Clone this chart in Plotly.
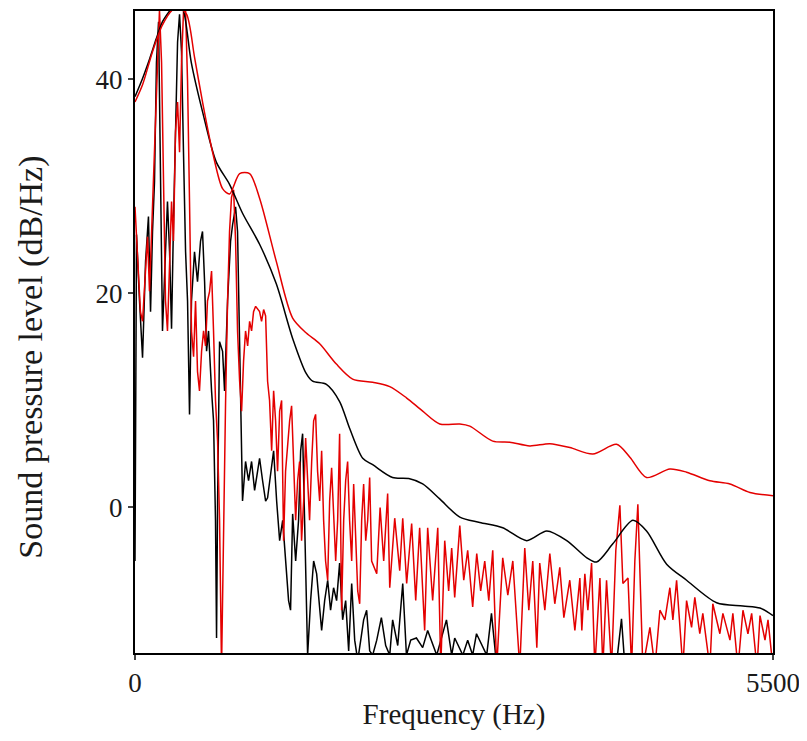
import plotly.graph_objects as go

# LPC envelope, black
env_black_hz = [0, 65, 125, 183, 237, 298, 367, 418, 485, 582, 700, 815, 927, 1074, 1218,
                1359, 1477, 1531, 1650, 1764, 1850, 1963, 2049, 2220, 2360, 2480, 2627,
                2800, 2972, 3170, 3377, 3550, 3722, 3895, 3979, 4119, 4292, 4410, 4583,
                4755, 5014, 5241, 5388, 5500]
env_black_db = [38.4, 40.1, 41.9, 43.8, 45.4, 46.4, 47.3, 46.4, 41.6, 37.0, 32.3, 30.2, 27.5,
                24.6, 20.9, 15.8, 12.5, 11.8, 11.5, 9.9, 7.4, 4.6, 4.0, 2.8, 2.7, 2.2, 0.8,
                -0.9, -1.4, -1.9, -3.1, -2.2, -3.1, -4.7, -5.1, -3.4, -1.2, -2.2, -5.3,
                -6.8, -8.9, -9.2, -9.4, -10.1]

# LPC envelope, red
env_red_hz = [0, 65, 151, 237, 324, 384, 444, 513, 582, 669, 755, 815, 902, 988, 1074, 1218,
              1359, 1477, 1592, 1736, 1876, 2049, 2196, 2340, 2480, 2627, 2800, 2886, 3084,
              3231, 3403, 3576, 3748, 3947, 4151, 4266, 4410, 4611, 4755, 4956, 5129, 5301,
              5500]
env_red_db = [37.9, 39.5, 42.6, 45.1, 46.5, 46.6, 46.1, 42.1, 37.9, 33.2, 29.8, 29.3, 31.2,
              31.2, 28.9, 23.0, 17.7, 16.3, 15.3, 13.4, 12.0, 11.7, 11.3, 10.25, 9.0, 7.8,
              7.8, 7.6, 6.2, 6.1, 5.75, 5.96, 5.6, 5.0, 5.9, 4.7, 2.8, 3.6, 3.3, 2.5, 2.2,
              1.4, 1.1]

# spectrum, black
spec_black_hz = [0, 13, 39, 65, 91, 116, 134, 151, 168, 185, 203, 220, 237, 263, 280, 298,
                 315, 332, 349, 367, 384, 401, 418, 436, 453, 470, 487, 513, 539, 565, 582,
                 600, 617, 634, 660, 677, 694, 703, 712, 729, 755, 772, 798, 824, 841, 867,
                 884, 902, 927, 953, 979, 1005, 1031, 1057, 1074, 1100, 1126, 1143, 1169,
                 1195, 1221, 1247, 1273, 1298, 1324, 1341, 1359, 1385, 1410, 1428, 1445,
                 1462, 1488, 1514, 1540, 1566, 1592, 1609, 1635, 1661, 1686, 1712, 1738,
                 1764, 1790, 1816, 1842, 1868, 1894, 1920, 1946, 1971, 1997, 2023, 2049,
                 2084, 2124, 2161, 2196, 2221, 2265, 2308, 2340, 2377, 2426, 2480, 2523,
                 2601, 2685, 2730, 2756, 2826, 2868, 2911, 2944, 3032, 3073, 3118, 3231,
                 3662, 4094, 4154, 4194, 4232, 4525, 5500]
spec_black_db = [-5.0, 25.5, 19.3, 14.0, 23.0, 27.2, 18.3, 25.8, 30.4, 41.6, 45.4, 33.2, 16.5,
                 23.9, 28.6, 23.9, 16.7, 26.7, 36.0, 43.5, 46.1, 42.6, 33.2, 23.9, 19.3, 8.7,
                 19.3, 23.9, 21.1, 24.9, 25.8, 21.1, 14.6, 16.5, 10.9, 8.1, -1.2, -12.2, 0.6,
                 15.5, 14.6, 10.9, 19.3, 24.9, 26.4, 28.1, 25.8, 15.5, 0.6, 4.3, 2.5, 4.3,
                 1.6, 3.4, 4.6, 2.5, 0.6, 0.9, 3.4, 5.3, 0.6, -3.1, -1.2, -5.0, -8.7, -9.6,
                 -0.6, -5.0, -1.2, 5.3, 6.9, -1.2, -13.8, -8.7, -5.0, -6.2, -9.6, -11.5,
                 -8.7, -6.8, -9.6, -7.5, -8.7, -5.2, -10.5, -8.7, -13.4, -7.1, -12.4, -14.3,
                 -12.4, -10.5, -9.6, -13.4, -13.8, -12.4, -10.3, -12.9, -13.8, -10.5, -12.9,
                 -7.1, -13.8, -12.4, -12.2, -13.1, -11.5, -13.8, -10.5, -13.8, -12.2, -13.8,
                 -12.4, -13.8, -11.8, -13.8, -9.9, -14.8, -18.0, -19.9, -18.0, -14.3, -10.4,
                 -16.2, -19.9, -19.9]

# spectrum, red
spec_red_hz = [0, 22, 47, 65, 91, 108, 125, 142, 160, 177, 194, 211, 229, 246, 263, 280, 298,
               315, 332, 349, 367, 384, 401, 418, 436, 453, 470, 487, 505, 522, 539, 556,
               574, 591, 608, 625, 643, 660, 677, 694, 712, 729, 746, 763, 781, 798, 815,
               832, 850, 867, 884, 902, 919, 936, 953, 971, 988, 1005, 1022, 1040, 1057,
               1074, 1091, 1109, 1126, 1143, 1160, 1178, 1195, 1212, 1229, 1247, 1264, 1281,
               1298, 1316, 1333, 1350, 1367, 1385, 1402, 1419, 1436, 1454, 1471, 1488, 1505,
               1523, 1540, 1557, 1574, 1592, 1609, 1626, 1643, 1661, 1678, 1695, 1712, 1730,
               1747, 1764, 1781, 1799, 1816, 1833, 1850, 1868, 1885, 1902, 1920, 1937, 1954,
               1971, 1989, 2006, 2023, 2040, 2084, 2113, 2144, 2178, 2196, 2239, 2282, 2308,
               2342, 2385, 2420, 2454, 2497, 2523, 2566, 2610, 2636, 2670, 2704, 2730, 2756,
               2800, 2834, 2868, 2911, 2946, 2980, 3015, 3050, 3084, 3118, 3170, 3214, 3257,
               3317, 3360, 3395, 3429, 3464, 3489, 3533, 3576, 3619, 3662, 3697, 3748, 3792,
               3835, 3852, 3878, 3904, 3936, 3964, 4008, 4033, 4065, 4108, 4145, 4180, 4206,
               4250, 4281, 4309, 4335, 4378, 4439, 4482, 4525, 4568, 4611, 4637, 4669, 4723,
               4755, 4798, 4826, 4869, 4895, 4956, 4981, 5042, 5068, 5129, 5154, 5198, 5241,
               5284, 5316, 5362, 5388, 5431, 5457, 5500]
spec_red_db = [28.1, 23.0, 18.3, 17.4, 22.5, 25.3, 20.2, 25.8, 31.4, 37.0, 42.6, 46.5, 41.6,
               28.6, 19.3, 16.5, 23.0, 28.6, 24.9, 35.1, 37.9, 33.2, 41.6, 46.3, 46.5, 39.8,
               28.6, 16.5, 14.1, 19.3, 12.7, 10.9, 14.6, 16.5, 15.1, 19.3, 20.2, 22.1, 16.5,
               10.0, 6.2, -1.2, -15.0, -1.2, 10.0, 19.3, 25.8, 29.0, 29.7, 24.9, 16.5, 11.8,
               9.0, 13.7, 16.5, 15.1, 17.4, 16.5, 18.3, 18.8, 18.5, 18.3, 17.4, 18.5, 17.9,
               11.8, 10.0, 5.3, 10.9, 8.1, 3.4, 9.0, 10.0, -3.1, 3.4, 6.2, 8.1, 9.5, 3.4,
               -1.2, 2.5, 4.3, -3.1, 0.6, 6.5, 2.5, -1.2, 4.3, 8.1, 8.7, 3.4, 0.6, 5.3, -1.2,
               -5.0, -6.8, 0.6, 3.7, -0.3, -5.0, -1.2, 6.9, -9.6, -1.2, 2.5, 4.3, -1.2, -5.0,
               2.2, -3.1, -7.8, -9.0, -1.2, 2.2, -3.1, -1.2, 2.8, -5.0, -6.2, 0.0, -5.0, 1.3,
               -7.5, -1.0, -5.9, -1.0, -7.1, -1.5, -8.7, -1.9, -11.5, -1.9, -8.7, -1.9, -15.0,
               -3.1, -7.8, -3.8, -8.4, -1.7, -6.8, -4.0, -9.3, -4.3, -7.8, -5.0, -8.7, -4.0,
               -15.0, -4.7, -8.2, -5.0, -15.0, -3.8, -9.6, -5.0, -13.1, -5.2, -9.6, -4.3,
               -9.0, -5.6, -10.3, -6.8, -11.5, -6.6, -11.5, -6.2, -9.6, -5.2, -15.0, -6.6,
               -15.0, -6.8, -15.0, -4.0, 0.2, -7.1, -6.6, -15.0, -5.0, 0.3, -15.0, -11.2,
               -15.0, -9.6, -10.5, -7.5, -10.5, -6.8, -15.0, -8.7, -11.2, -8.4, -11.8, -9.9,
               -15.0, -9.0, -11.8, -9.9, -12.4, -9.9, -15.0, -9.6, -11.8, -9.9, -15.0, -10.1,
               -12.4, -10.5, -15.0]

x_ticks = [0, 5500]
y_ticks = [0, 20, 40]

RED = "rgb(228,0,0)"
FONT = "Liberation Serif"
INK = "#1a1a1a"

fig = go.Figure()

fig.add_trace(go.Scatter(x=spec_black_hz, y=spec_black_db, mode="lines",
                         line=dict(color="black", width=1.5)))
fig.add_trace(go.Scatter(x=spec_red_hz, y=spec_red_db, mode="lines",
                         line=dict(color=RED, width=1.5)))
fig.add_trace(go.Scatter(x=env_black_hz, y=env_black_db, mode="lines",
                         line=dict(color="black", width=1.5, shape="spline", smoothing=0.8)))
fig.add_trace(go.Scatter(x=env_red_hz, y=env_red_db, mode="lines",
                         line=dict(color=RED, width=1.5, shape="spline", smoothing=0.8)))

# y title as an annotation so it can sit a little below the plot's middle
fig.add_annotation(text="Sound pressure level (dB/Hz)", textangle=-90,
                   xref="paper", yref="paper", x=-0.163, y=0.46,
                   xanchor="center", yanchor="middle", showarrow=False,
                   font=dict(family=FONT, size=34, color=INK))

# the page body has an 8px margin, so the figure is 8px smaller than the window
fig.update_layout(
    width=799, height=733,
    paper_bgcolor="white", plot_bgcolor="white",
    showlegend=False,
    margin=dict(l=127, r=34, t=1, b=88),
    font=dict(family=FONT, size=27, color=INK),
    xaxis=dict(
        range=[0, 5500], tickvals=x_ticks, ticks="outside", ticklen=5, tickwidth=2,
        showgrid=False, zeroline=False, showline=True, linecolor="black", linewidth=2,
        mirror=True, tickfont=dict(family=FONT, size=27, color=INK),
        title=dict(text="Frequency (Hz)", standoff=6,
                   font=dict(family=FONT, size=29, color=INK)),
    ),
    yaxis=dict(
        range=[-13.6, 46.4], tickvals=y_ticks, ticks="outside", ticklen=5, tickwidth=2,
        showgrid=False, zeroline=False, showline=True, linecolor="black", linewidth=2,
        mirror=True, tickfont=dict(family=FONT, size=27, color=INK),
    ),
)

fig.write_html("out.html")
